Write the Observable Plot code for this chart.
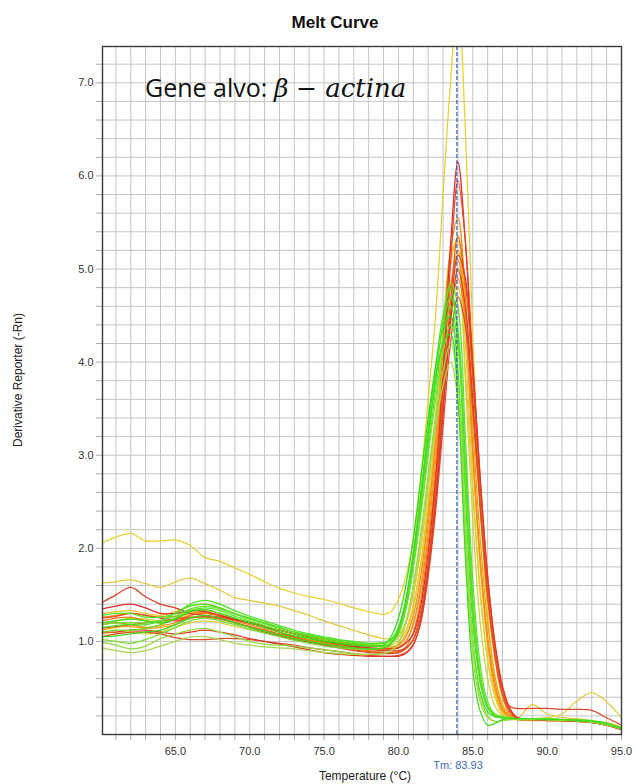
<!DOCTYPE html>
<html><head><meta charset="utf-8">
<script src="https://cdn.jsdelivr.net/npm/d3@7"></script>
<script src="https://cdn.jsdelivr.net/npm/@observablehq/plot@0.6"></script>
<style>body{margin:0;background:#fff;} #chart{width:633px;height:784px;}</style>
</head><body><div id="chart"></div>
<script>
// Temperatures (°C) at which every curve is sampled
const temps = [60.1,61,62,63,64,65,66,67,68,69,70,71,72,73,74,75,76,77,78,79,
  79.5,80,80.5,81,81.5,82,82.5,83,83.5,84,84.5,
  85,85.5,86,86.5,87,87.5,88,
  89,90,91,92,93,94,95];
const xTickLabels = [65,70,75,80,85,90,95];
const yTickLabels = [1,2,3,4,5,6,7];
const tm = 83.93;

// Derivative reporter (-Rn) values per well
const yellowTall = [2.06,2.12,2.16,2.08,2.08,2.09,2.03,1.90,1.86,1.79,1.72,1.64,1.57,1.52,1.48,1.45,1.41,1.36,1.32,1.29,
  1.32,1.45,1.70,2.10,2.75,3.60,4.50,5.80,7.00,7.90,6.50, 4.30,2.50,1.30,0.60,0.30,0.20,0.17, 0.17,0.17,0.16,0.15,0.14,0.12,0.08];
const yellowB = [1.63,1.64,1.66,1.62,1.58,1.64,1.68,1.62,1.55,1.47,1.44,1.41,1.38,1.33,1.28,1.22,1.17,1.12,1.07,1.03,
  1.03,1.07,1.20,1.50,2.00,2.65,3.45,4.35,5.15,5.30,4.20, 2.70,1.55,0.80,0.40,0.22,0.18,0.17, 0.32,0.22,0.18,0.17,0.15,0.13,0.08];
const yellowC = [1.30,1.32,1.33,1.30,1.28,1.32,1.38,1.40,1.36,1.30,1.25,1.20,1.15,1.10,1.06,1.03,1.00,0.98,0.96,0.95,
  0.96,1.00,1.12,1.40,1.85,2.50,3.30,4.25,5.05,5.35,4.50, 3.00,1.80,0.95,0.45,0.24,0.18,0.16, 0.16,0.16,0.15,0.15,0.14,0.12,0.07];
const yellowD = [1.08,1.10,1.10,1.08,1.10,1.15,1.20,1.22,1.20,1.16,1.13,1.10,1.06,1.03,1.00,0.97,0.95,0.93,0.92,0.92,
  0.93,0.97,1.08,1.35,1.80,2.45,3.20,4.05,4.65,4.80,3.90, 2.60,1.50,0.80,0.40,0.22,0.18,0.17, 0.17,0.18,0.22,0.36,0.45,0.35,0.18];
const yellowGreen = [1.20,1.22,1.25,1.24,1.22,1.24,1.30,1.33,1.30,1.25,1.20,1.16,1.12,1.08,1.05,1.02,0.99,0.97,0.96,0.96,
  0.98,1.04,1.20,1.52,2.00,2.65,3.40,4.20,4.85,5.00,3.80, 2.30,1.20,0.60,0.30,0.20,0.17,0.16, 0.16,0.16,0.15,0.15,0.14,0.11,0.06];
const orangeA = [1.18,1.20,1.18,1.15,1.17,1.20,1.28,1.30,1.28,1.24,1.20,1.16,1.12,1.08,1.05,1.02,0.99,0.97,0.95,0.94,
  0.94,0.96,1.05,1.28,1.70,2.35,3.15,4.15,5.20,5.55,4.70, 3.10,1.90,1.05,0.55,0.28,0.19,0.16, 0.15,0.15,0.14,0.14,0.13,0.10,0.06];
const orangeB = [1.12,1.15,1.16,1.14,1.15,1.18,1.25,1.27,1.25,1.20,1.16,1.12,1.08,1.05,1.02,0.99,0.96,0.94,0.92,0.91,
  0.91,0.93,1.00,1.20,1.60,2.25,3.05,3.95,4.80,5.20,4.60, 3.30,2.10,1.20,0.62,0.32,0.20,0.16, 0.16,0.16,0.15,0.14,0.13,0.11,0.06];
const orangeC = [1.22,1.25,1.26,1.22,1.20,1.23,1.28,1.30,1.27,1.22,1.18,1.14,1.10,1.05,1.01,0.98,0.95,0.92,0.90,0.88,
  0.88,0.89,0.94,1.10,1.45,2.05,2.80,3.70,4.50,4.90,4.50, 3.50,2.40,1.45,0.80,0.40,0.22,0.17, 0.16,0.16,0.15,0.14,0.13,0.10,0.06];
const orangeD = [1.26,1.28,1.30,1.28,1.26,1.27,1.30,1.31,1.28,1.24,1.20,1.16,1.12,1.08,1.04,1.01,0.98,0.95,0.93,0.92,
  0.92,0.94,1.00,1.18,1.55,2.15,2.95,3.90,4.80,5.10,4.40, 3.00,1.85,1.00,0.50,0.26,0.19,0.16, 0.16,0.15,0.15,0.14,0.13,0.10,0.06];
const redA = [1.35,1.38,1.40,1.36,1.30,1.30,1.33,1.32,1.28,1.24,1.20,1.16,1.12,1.08,1.04,1.00,0.97,0.95,0.93,0.92,
  0.92,0.93,0.98,1.08,1.38,1.95,2.75,3.90,5.25,6.15,5.30, 3.90,2.65,1.60,0.90,0.45,0.25,0.18, 0.17,0.16,0.16,0.15,0.14,0.11,0.06];
const redB = [1.25,1.27,1.30,1.28,1.25,1.22,1.25,1.27,1.25,1.20,1.15,1.10,1.06,1.02,0.99,0.96,0.93,0.90,0.88,0.87,
  0.87,0.88,0.92,1.02,1.30,1.85,2.65,3.75,5.05,5.95,5.30, 4.00,2.75,1.70,0.95,0.50,0.27,0.18, 0.16,0.15,0.15,0.14,0.13,0.10,0.06];
const redC = [1.42,1.50,1.58,1.48,1.40,1.36,1.30,1.28,1.26,1.23,1.20,1.16,1.12,1.08,1.04,1.00,0.97,0.94,0.92,0.90,
  0.90,0.90,0.93,1.02,1.28,1.80,2.50,3.45,4.40,5.00,4.60, 3.60,2.50,1.55,0.88,0.45,0.25,0.18, 0.17,0.16,0.16,0.15,0.13,0.10,0.06];
const redD = [1.05,1.08,1.10,1.10,1.08,1.04,1.02,1.02,1.03,1.03,1.02,1.00,0.98,0.96,0.93,0.91,0.89,0.87,0.85,0.84,
  0.84,0.85,0.88,0.97,1.20,1.70,2.40,3.30,4.20,4.70,4.40, 3.50,2.45,1.50,0.85,0.45,0.30,0.28, 0.28,0.28,0.27,0.27,0.26,0.18,0.10];
const redE = [1.14,1.16,1.18,1.20,1.22,1.24,1.26,1.26,1.24,1.20,1.16,1.12,1.08,1.04,1.00,0.97,0.94,0.91,0.89,0.88,
  0.88,0.88,0.92,1.02,1.30,1.85,2.60,3.60,4.65,5.35,4.85, 3.80,2.60,1.60,0.90,0.46,0.25,0.17, 0.16,0.16,0.15,0.14,0.13,0.10,0.05];
const redF = [1.10,1.10,1.12,1.12,1.10,1.08,1.10,1.12,1.10,1.07,1.03,1.00,0.97,0.94,0.91,0.88,0.86,0.85,0.84,0.84,
  0.84,0.84,0.87,0.96,1.22,1.75,2.50,3.50,4.50,5.15,4.90, 3.95,2.75,1.70,0.98,0.52,0.28,0.18, 0.17,0.16,0.16,0.15,0.13,0.10,0.05];
const greenA = [1.15,1.17,1.18,1.18,1.22,1.30,1.38,1.40,1.36,1.30,1.25,1.20,1.15,1.10,1.06,1.03,1.00,0.98,0.97,0.98,
  1.02,1.15,1.45,1.95,2.60,3.30,3.95,4.50,4.80,4.30,2.60, 1.20,0.55,0.28,0.20,0.18,0.17,0.17, 0.17,0.17,0.16,0.15,0.14,0.12,0.07];
const greenB = [1.10,1.12,1.12,1.14,1.18,1.25,1.33,1.36,1.33,1.27,1.22,1.17,1.12,1.08,1.04,1.01,0.98,0.96,0.95,0.95,
  0.98,1.08,1.35,1.80,2.40,3.05,3.70,4.25,4.60,4.20,2.70, 1.30,0.60,0.30,0.21,0.19,0.18,0.17, 0.17,0.17,0.16,0.16,0.14,0.12,0.07];
const greenC = [1.20,1.22,1.24,1.22,1.20,1.24,1.32,1.34,1.30,1.25,1.20,1.15,1.10,1.06,1.03,1.00,0.98,0.96,0.95,0.96,
  1.05,1.25,1.60,2.10,2.75,3.40,3.95,4.35,4.50,3.90,2.20, 1.00,0.45,0.24,0.19,0.18,0.17,0.17, 0.17,0.16,0.16,0.15,0.14,0.12,0.07];
const greenD = [1.02,1.00,0.98,1.02,1.08,1.15,1.22,1.25,1.22,1.18,1.13,1.09,1.05,1.01,0.98,0.95,0.93,0.92,0.92,0.93,
  0.97,1.08,1.35,1.80,2.35,3.00,3.60,4.10,4.40,4.15,3.00, 1.50,0.65,0.30,0.20,0.18,0.17,0.17, 0.17,0.17,0.16,0.15,0.14,0.11,0.07];
const greenE = [0.99,0.96,0.92,0.95,1.03,1.08,1.12,1.14,1.10,1.05,1.00,0.97,0.96,0.95,0.93,0.91,0.89,0.87,0.86,0.87,
  0.90,0.98,1.20,1.60,2.15,2.80,3.40,3.90,4.20,3.80,2.30, 1.00,0.40,0.20,0.14,0.15,0.16,0.17, 0.17,0.16,0.16,0.15,0.14,0.11,0.06];
const greenF = [1.28,1.30,1.30,1.26,1.26,1.30,1.40,1.44,1.40,1.33,1.27,1.22,1.17,1.12,1.08,1.05,1.02,1.00,0.98,0.98,
  1.02,1.12,1.40,1.88,2.50,3.20,3.85,4.40,4.70,4.35,2.90, 1.40,0.60,0.30,0.20,0.18,0.17,0.17, 0.17,0.17,0.16,0.16,0.15,0.12,0.07];
const greenG = [0.93,0.90,0.88,0.90,0.95,1.00,1.05,1.05,1.02,0.98,0.96,0.94,0.93,0.92,0.90,0.88,0.87,0.86,0.86,0.87,
  0.90,0.98,1.20,1.58,2.10,2.70,3.30,3.75,4.00,3.60,2.10, 0.85,0.35,0.18,0.14,0.15,0.16,0.16, 0.16,0.16,0.15,0.15,0.13,0.10,0.06];
const greenH = [1.18,1.20,1.20,1.20,1.22,1.27,1.35,1.38,1.35,1.29,1.24,1.19,1.14,1.10,1.07,1.04,1.01,0.99,0.98,0.99,
  1.00,1.10,1.35,1.82,2.45,3.15,3.85,4.45,4.85,4.60,3.20, 1.65,0.75,0.35,0.22,0.19,0.18,0.17, 0.17,0.17,0.16,0.15,0.14,0.12,0.07];
const greenI = [1.05,1.06,1.08,1.10,1.12,1.18,1.25,1.28,1.25,1.20,1.15,1.11,1.07,1.03,1.00,0.97,0.95,0.93,0.92,0.93,
  0.98,1.12,1.45,1.95,2.55,3.20,3.80,4.20,4.30,3.60,1.90, 0.70,0.25,0.10,0.12,0.16,0.17,0.17, 0.17,0.16,0.16,0.15,0.14,0.11,0.06];

// Draw order and colour of each well
const wells = [yellowTall, yellowB, yellowC, yellowD, yellowGreen,
  orangeA, orangeB, orangeC, orangeD,
  redA, redB, redC, redD, redE, redF,
  greenA, greenB, greenC, greenD, greenE, greenF, greenG, greenH, greenI];
const wellColors = ["#e8d02e", "#e4c83c", "#f0c41e", "#e2cc3a", "#ccd434",
  "#f08a14", "#f5a20a", "#f07a1a", "#f2901c",
  "#e02a2a", "#e64626", "#e03c1e", "#dc4a2a", "#e85a1c", "#e03a26",
  "#44e222", "#5ae620", "#36d812", "#72e032", "#92dc44", "#4ce426", "#a8d84c", "#60e02c", "#3cdc1c"];

const xMinor = d3.range(61, 96);
const yMinor = d3.range(1, 37).map(i => i / 5);
const isInt = v => Math.abs(v - Math.round(v)) < 1e-9;

const curveMarks = wells.map((vals, k) =>
  Plot.line(temps, {x: d => d, y: (d, i) => vals[i], stroke: wellColors[k],
    strokeWidth: 1.25, curve: "catmull-rom", clip: true}));

const plot = Plot.plot({
  width: 633, height: 784,
  marginLeft: 102, marginRight: 12, marginTop: 46, marginBottom: 50,
  style: {fontFamily: "'Liberation Sans', Arial, sans-serif", fontSize: "11px", background: "#fff"},
  x: {domain: [60.1, 95]},
  y: {domain: [0, 7.39]},
  marks: [
    Plot.gridX(xMinor, {stroke: "#c4c4c4", strokeOpacity: 1, strokeWidth: 1}),
    Plot.gridY(yMinor, {stroke: "#c4c4c4", strokeOpacity: 1, strokeWidth: 1}),
    Plot.axisX(xMinor, {tickSize: 6, tickPadding: 7, stroke: "#aaa", fill: "#333", label: null,
      tickFormat: d => xTickLabels.includes(d) ? d.toFixed(1) : ""}),
    Plot.axisY(yMinor, {tickSize: 6, tickPadding: 3, stroke: "#aaa", fill: "#333", label: null,
      tickFormat: d => (isInt(d) && yTickLabels.includes(Math.round(d))) ? d.toFixed(1) : ""}),
    ...curveMarks,
    Plot.ruleX([tm], {stroke: "#2a58b8", strokeWidth: 1.1, strokeDasharray: "4,2"}),
    Plot.frame({stroke: "#3a3a3a", strokeWidth: 1.4})
  ]
});
document.getElementById("chart").appendChild(plot);

const svg = d3.select(plot);
svg.append("text").attr("x", 335).attr("y", 28).attr("text-anchor", "middle")
  .attr("font-family", "'Liberation Sans', Arial, sans-serif").attr("font-weight", "bold")
  .attr("font-size", 17).attr("fill", "#111").text("Melt Curve");
const g = svg.append("text").attr("x", 145).attr("y", 97).attr("text-anchor", "start").attr("fill", "#111");
g.append("tspan").attr("font-family", "'Open Sans', sans-serif").attr("font-size", 25).text("Gene alvo: ");
g.append("tspan").attr("font-family", "'DejaVu Serif', serif").attr("font-style", "italic").attr("font-size", 25).text("β");
g.append("tspan").attr("font-family", "'DejaVu Serif', serif").attr("font-size", 25).attr("dx", 8).text("−");
g.append("tspan").attr("font-family", "'DejaVu Serif', serif").attr("font-style", "italic").attr("font-size", 26).attr("dx", 8).text("actina");
svg.append("text").attr("transform", "translate(22,380) rotate(-90)").attr("text-anchor", "middle")
  .attr("font-family", "'Liberation Sans', Arial, sans-serif").attr("font-size", 12).attr("fill", "#222")
  .text("Derivative Reporter (-Rn)");
svg.append("text").attr("x", 365).attr("y", 780).attr("text-anchor", "middle")
  .attr("font-family", "'Liberation Sans', Arial, sans-serif").attr("font-size", 12).attr("fill", "#222")
  .text("Temperature (°C)");
svg.append("text").attr("x", 458).attr("y", 769).attr("text-anchor", "middle")
  .attr("font-family", "'Liberation Sans', Arial, sans-serif").attr("font-size", 11).attr("fill", "#3a6ab8")
  .text("Tm: " + tm.toFixed(2));
</script>
</body></html>
